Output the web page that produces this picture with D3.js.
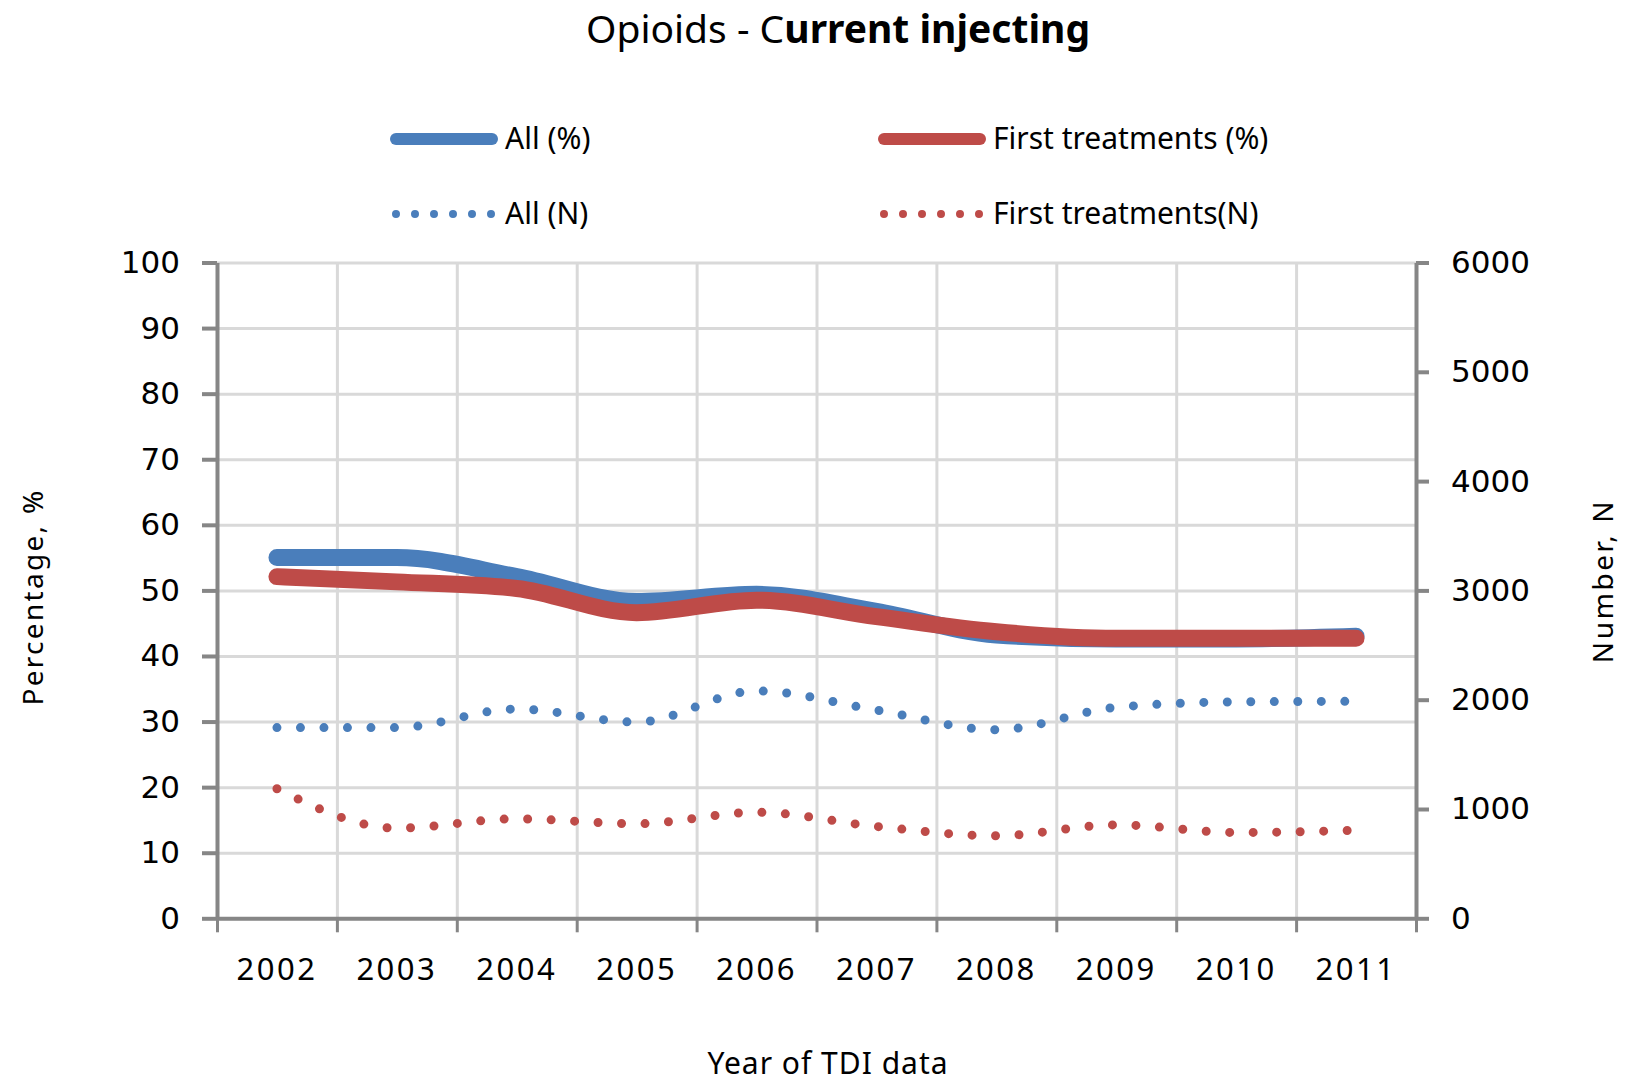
<html>
<head>
<meta charset="utf-8">
<script src="https://d3js.org/d3.v7.min.js"></script>
<style>
  body { margin: 0; background: #fff; }
  text { fill: #000; }
  .tick text { font-family: "DejaVu Sans", sans-serif; font-size: 31px; }
  .lbl { font-family: "Noto Sans", sans-serif; }
</style>
</head>
<body>
<svg width="1627" height="1082"></svg>
<script>
// data
var years = ["2002","2003","2004","2005","2006","2007","2008","2009","2010","2011"];
var allPct   = [55, 55, 52.1, 48.3, 49.4, 46.8, 43.2, 42.6, 42.6, 43.0];
var firstPct = [52.1, 51.3, 50.3, 46.6, 48.5, 46.0, 43.7, 42.7, 42.7, 42.7];
var allN     = [1745, 1745, 1915, 1795, 2080, 1905, 1725, 1930, 1980, 1985];
var firstN   = [1185, 825, 910, 865, 970, 840, 755, 855, 785, 805];
var leftTicks  = [0,10,20,30,40,50,60,70,80,90,100];
var rightTicks = [0,1000,2000,3000,4000,5000,6000];

var blue = "#4a7ebb", red = "#be4b48", grid = "#d9d9d9", axisCol = "#868686";

// plot box (window.top is reserved, so other names)
var pLeft = 217, pRight = 1416, pTop = 262.5, pBottom = 918.3;

var svg = d3.select("svg");

var x = d3.scaleBand().domain(years).range([pLeft, pRight]);
var xEdge = d3.scaleLinear().domain([0, years.length]).range([pLeft, pRight]);
var yL = d3.scaleLinear().domain([0, 100]).range([pBottom, pTop]);
var yR = d3.scaleLinear().domain([0, 6000]).range([pBottom, pTop]);
function cx(d, i) { return x(years[i]) + x.bandwidth() / 2; }

// grid
svg.append("g").attr("transform", "translate(" + pLeft + ",0)")
  .call(d3.axisLeft(yL).tickValues(leftTicks).tickSize(-(pRight - pLeft)).tickFormat(""))
  .call(function (g) { g.select(".domain").remove(); g.selectAll("line").attr("stroke", grid).attr("stroke-width", 3); });
svg.append("g").attr("transform", "translate(0," + pTop + ")")
  .call(d3.axisBottom(xEdge).tickValues(d3.range(1, years.length)).tickSize(pBottom - pTop).tickFormat(""))
  .call(function (g) { g.select(".domain").remove(); g.selectAll("line").attr("stroke", grid).attr("stroke-width", 3); });

// left axis
svg.append("g").attr("transform", "translate(" + pLeft + ",0)")
  .call(d3.axisLeft(yL).tickValues(leftTicks).tickSize(15).tickPadding(22).tickSizeOuter(0))
  .call(function (g) {
    g.select(".domain").attr("stroke", axisCol).attr("stroke-width", 4);
    g.selectAll("line").attr("stroke", axisCol).attr("stroke-width", 4);
  });

// right axis
svg.append("g").attr("transform", "translate(" + pRight + ",0)")
  .call(d3.axisRight(yR).tickValues(rightTicks).tickFormat(d3.format("d")).tickSize(13).tickPadding(22).tickSizeOuter(0))
  .call(function (g) {
    g.select(".domain").attr("stroke", axisCol).attr("stroke-width", 4);
    g.selectAll("line").attr("stroke", axisCol).attr("stroke-width", 4);
  });

// bottom axis: ticks at category edges, labels at centres
svg.append("g").attr("transform", "translate(0," + pBottom + ")")
  .call(d3.axisBottom(xEdge).tickValues(d3.range(0, years.length + 1)).tickSize(14).tickFormat("").tickSizeOuter(0))
  .call(function (g) {
    g.select(".domain").attr("stroke", axisCol).attr("stroke-width", 4);
    g.selectAll("line").attr("stroke", axisCol).attr("stroke-width", 3);
  });
svg.append("g").attr("transform", "translate(0," + pBottom + ")")
  .call(d3.axisBottom(x).tickSize(0).tickPadding(40))
  .call(function (g) {
    g.select(".domain").remove();
    g.selectAll("text").style("font-family", "'Noto Sans', sans-serif")
      .style("font-size", "31px").style("letter-spacing", "2.5px");
  });

// lines
var curve = d3.curveMonotoneX;
var lineL = d3.line().x(cx).y(function (d) { return yL(d); }).curve(curve);
var lineR = d3.line().x(cx).y(function (d) { return yR(d); }).curve(curve);

svg.append("path").datum(allN).attr("d", lineR).attr("fill", "none")
  .attr("stroke", blue).attr("stroke-width", 9).attr("stroke-linecap", "round").attr("stroke-dasharray", "0 23.5");
svg.append("path").datum(firstN).attr("d", lineR).attr("fill", "none")
  .attr("stroke", red).attr("stroke-width", 9).attr("stroke-linecap", "round").attr("stroke-dasharray", "0 23.5");
svg.append("path").datum(allPct).attr("d", lineL).attr("fill", "none")
  .attr("stroke", blue).attr("stroke-width", 17).attr("stroke-linecap", "round").attr("stroke-linejoin", "round");
svg.append("path").datum(firstPct).attr("d", lineL).attr("fill", "none")
  .attr("stroke", red).attr("stroke-width", 17).attr("stroke-linecap", "round").attr("stroke-linejoin", "round");

// title
var t = svg.append("text").attr("class", "lbl").attr("x", 838).attr("y", 43)
  .attr("text-anchor", "middle").style("font-size", "39px");
t.append("tspan").text("Opioids - C");
t.append("tspan").attr("font-weight", "bold").text("urrent injecting");

// legend
var legend = [
  {name: "All (%)", color: blue, x: 392, y: 139, dotted: false},
  {name: "First treatments (%)", color: red, x: 880, y: 139, dotted: false},
  {name: "All (N)", color: blue, x: 392, y: 214, dotted: true},
  {name: "First treatments(N)", color: red, x: 880, y: 214, dotted: true}
];
var lg = svg.append("g").selectAll("g").data(legend).enter().append("g");
lg.append("line").attr("x1", function (d) { return d.x + 4; }).attr("x2", function (d) { return d.x + 100; })
  .attr("y1", function (d) { return d.y; }).attr("y2", function (d) { return d.y; })
  .attr("stroke", function (d) { return d.color; })
  .attr("stroke-width", function (d) { return d.dotted ? 8 : 12; })
  .attr("stroke-linecap", "round")
  .attr("stroke-dasharray", function (d) { return d.dotted ? "0 19" : null; });
lg.append("text").attr("class", "lbl").attr("x", function (d) { return d.x + 113; })
  .attr("y", function (d) { return d.y + 10; }).style("font-size", "30px").text(function (d) { return d.name; });

// axis titles
svg.append("text").attr("class", "lbl").attr("transform", "translate(43,597) rotate(-90)")
  .attr("text-anchor", "middle").style("font-size", "28px").style("letter-spacing", "2.3px").text("Percentage, %");
svg.append("text").attr("class", "lbl").attr("transform", "translate(1613,581) rotate(-90)")
  .attr("text-anchor", "middle").style("font-size", "28px").style("letter-spacing", "2.6px").text("Number, N");
svg.append("text").attr("class", "lbl").attr("x", 828).attr("y", 1074)
  .attr("text-anchor", "middle").style("font-size", "30px").style("letter-spacing", "1px").text("Year of TDI data");
</script>
</body>
</html>
